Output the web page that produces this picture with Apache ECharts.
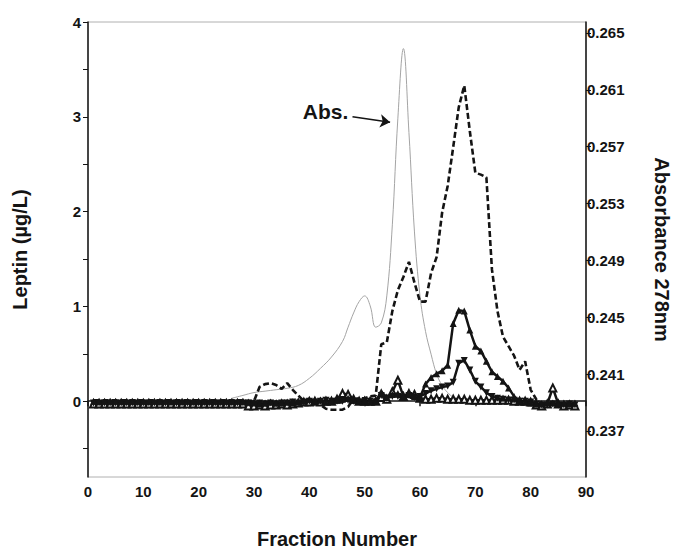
<!DOCTYPE html>
<html>
<head>
<meta charset="utf-8">
<script src="https://cdn.jsdelivr.net/npm/echarts@6/dist/echarts.min.js"></script>
<style>
  html, body { margin: 0; padding: 0; background: #fff; }
  #chart { width: 680px; height: 549px; }
</style>
</head>
<body>
<div id="chart"></div>
<script>
// --- data ---
const fractions = [1,2,3,4,5,6,7,8,9,10,11,12,13,14,15,16,17,18,19,20,21,22,23,24,25,26,27,28,29,30,
  31,32,33,34,35,36,37,38,39,40,41,42,43,44,45,46,47,48,49,50,51,52,53,54,55,56,57,58,59,60,
  61,62,63,64,65,66,67,68,69,70,71,72,73,74,75,76,77,78,79,80,81,82,83,84,85,86,87,88];

// leptin, filled up-triangles (larger peak)
const leptinUp = [0.00,0.00,0.00,0.00,0.00,0.00,0.00,0.00,0.00,0.00,0.00,0.00,0.00,0.00,0.00,
  0.00,0.00,0.00,0.00,0.00,0.00,0.00,0.00,0.00,0.00,0.00,0.00,0.00,-0.01,-0.01,
  -0.03,-0.02,-0.01,-0.02,-0.02,-0.01,-0.02,-0.01,0.00,0.02,0.00,0.01,-0.01,0.00,0.01,
  0.02,0.03,0.01,0.00,0.00,-0.01,0.00,0.10,0.04,0.07,0.08,0.05,0.09,0.05,0.04,
  0.18,0.25,0.29,0.32,0.38,0.82,0.96,0.95,0.75,0.58,0.53,0.42,0.31,0.26,0.21,
  0.14,0.05,0.00,-0.01,-0.02,-0.03,-0.03,-0.02,-0.02,-0.03,-0.02,-0.03,-0.02];

// leptin, filled down-triangles (smaller peak)
const leptinDown = [-0.02,-0.02,-0.02,-0.02,-0.02,-0.02,-0.02,-0.02,-0.02,-0.02,-0.02,-0.02,-0.02,-0.02,-0.02,
  -0.02,-0.02,-0.02,-0.02,-0.02,-0.02,-0.02,-0.02,-0.02,-0.02,-0.02,-0.02,-0.02,-0.02,-0.03,
  -0.02,-0.03,-0.02,-0.03,-0.02,-0.02,-0.01,-0.02,-0.01,0.00,-0.01,0.00,0.01,0.00,0.00,
  0.00,0.01,0.00,-0.01,-0.01,0.00,-0.01,0.06,0.03,0.05,0.05,0.04,0.06,0.04,0.05,
  0.08,0.11,0.13,0.15,0.16,0.20,0.40,0.43,0.33,0.21,0.15,0.09,0.05,0.03,0.02,
  0.01,0.01,0.00,0.00,-0.01,-0.03,-0.04,-0.04,-0.03,-0.04,-0.04,-0.03,-0.04];

// leptin, open triangles
const leptinOpen = [-0.03,-0.03,-0.03,-0.03,-0.03,-0.03,-0.03,-0.03,-0.03,-0.03,-0.03,-0.03,-0.03,-0.03,-0.03,
  -0.03,-0.03,-0.03,-0.03,-0.03,-0.03,-0.03,-0.03,-0.03,-0.03,-0.03,-0.03,-0.03,-0.05,-0.05,
  -0.04,-0.05,-0.04,-0.04,-0.03,-0.04,-0.03,-0.02,-0.01,-0.01,0.00,-0.01,0.00,0.00,0.02,
  0.08,0.07,0.02,0.00,0.00,0.00,0.00,0.04,0.02,0.10,0.22,0.05,0.08,0.07,0.03,
  0.02,0.02,0.03,0.03,0.02,0.02,0.02,0.02,0.01,0.01,0.01,0.01,0.01,0.01,0.01,
  0.01,0.00,0.00,0.00,-0.01,-0.04,-0.05,-0.03,0.14,-0.03,-0.05,-0.04,-0.05];

// leptin, dashed line
const leptinDash = [0.01,0.01,0.01,0.01,0.01,0.01,0.01,0.01,0.01,0.01,0.01,0.01,0.01,0.01,0.01,
  0.01,0.01,0.01,0.01,0.01,0.01,0.01,0.01,0.01,0.01,0.01,0.01,0.01,0.00,0.00,
  0.15,0.18,0.19,0.17,0.13,0.19,0.12,0.06,0.00,-0.01,-0.02,-0.04,-0.08,-0.09,-0.09,
  -0.09,-0.06,0.02,0.03,0.03,0.05,0.06,0.60,0.62,0.95,1.17,1.31,1.47,1.25,1.05,
  1.05,1.35,1.52,1.99,2.27,2.68,3.10,3.33,2.85,2.41,2.39,2.36,1.39,0.95,0.68,
  0.58,0.48,0.33,0.42,0.12,0.02,-0.03,-0.04,-0.03,-0.04,-0.03,-0.04,-0.03];

// absorbance at 278 nm (right axis)
const absFrac = [26,28,30,32,34,36,38,40,42,44,46,47,48,49,50,51,52,53,54,55,56,57,58,59,60,61,62,63,64,65,66,68,70,72,74,76,78,80];
const absVal = [0.2393,0.2395,0.2397,0.2398,0.2399,0.2400,0.2402,0.2407,0.2414,0.2422,0.2433,0.2443,0.2453,0.2461,0.2465,0.2458,0.2443,0.2446,0.2465,0.2515,0.2590,0.2639,0.2580,0.2510,0.2465,0.2440,0.2424,0.2410,0.2402,0.2397,0.2394,0.2392,0.2391,0.2392,0.2393,0.2394,0.2393,0.2392];

const xTicks = [0,10,20,30,40,50,60,70,80,90];
const leftLabels = [0,1,2,3,4];
const leftTicks = [-0.5,0,0.5,1,1.5,2,2.5,3,3.5,4];
const rightLabels = [0.237,0.241,0.245,0.249,0.253,0.257,0.261,0.265];

const pairs = (xs, ys) => xs.map((x, i) => [x, ys[i]]);

const FONT = 'Liberation Sans';
const INK = '#141414';
const lblStyle = { color: INK, fontFamily: FONT, fontWeight: 'bold', fontSize: 15 };
const nameStyle = { color: INK, fontFamily: FONT, fontWeight: 'bold', fontSize: 20 };

const chart = echarts.init(document.getElementById('chart'), null, { renderer: 'svg' });

chart.setOption({
  animation: false,
  backgroundColor: '#fff',
  grid: {
    left: 88, right: 94, top: 22, bottom: 72, containLabel: false, outerBoundsMode: 'none',
    show: true, borderColor: '#b0b0b0', borderWidth: 1
  },
  xAxis: {
    type: 'value', min: 0, max: 90, interval: 10,
    name: 'Fraction Number', nameLocation: 'middle', nameGap: 52,
    nameTextStyle: nameStyle,
    axisLine: { show: true, lineStyle: { color: INK, width: 1.5 } },
    axisTick: { show: true, length: 5, lineStyle: { color: INK, width: 1.5 }, customValues: xTicks },
    axisLabel: Object.assign({ margin: 7, customValues: xTicks }, lblStyle),
    splitLine: { show: false }
  },
  yAxis: [{
    type: 'value', min: -0.8, max: 4, position: 'left',
    name: 'Leptin (µg/L)', nameLocation: 'middle', nameGap: 58, nameRotate: 90,
    nameTextStyle: nameStyle,
    axisLine: { show: true, lineStyle: { color: INK, width: 1.5 } },
    axisTick: { show: true, length: 5, lineStyle: { color: INK, width: 1 }, customValues: leftTicks },
    axisLabel: Object.assign({ margin: 7, customValues: leftLabels }, lblStyle),
    splitLine: { show: false }
  }, {
    type: 'value', min: 0.23376, max: 0.26577, position: 'right',
    name: 'Absorbance 278nm', nameLocation: 'middle', nameGap: 66, nameRotate: -90,
    nameTextStyle: nameStyle,
    axisLine: { show: true, lineStyle: { color: INK, width: 1.5 } },
    axisTick: { show: true, length: 5, lineStyle: { color: INK, width: 1 }, customValues: rightLabels },
    axisLabel: Object.assign({ margin: 1, customValues: rightLabels, formatter: v => v.toFixed(3) }, lblStyle),
    splitLine: { show: false }
  }],
  series: [{
    name: 'Abs.', type: 'line', yAxisIndex: 1, smooth: 0.4, showSymbol: false,
    data: pairs(absFrac, absVal),
    lineStyle: { color: '#a4a4a4', width: 1 },
    markLine: {
      silent: true, symbol: ['none', 'arrow'], symbolSize: 10,
      lineStyle: { color: INK, width: 1.6, type: 'solid' }, label: { show: false },
      data: [[{ coord: [47.8, 0.2591] }, { coord: [54.6, 0.25872] }]]
    },
    markPoint: {
      silent: true, symbol: 'circle', symbolSize: 0,
      label: { show: true, position: 'left', distance: 2, formatter: 'Abs.', color: INK, fontFamily: FONT, fontWeight: 'bold', fontSize: 21 },
      data: [{ coord: [47.4, 0.25945] }]
    }
  }, {
    name: 'open', type: 'line', data: pairs(fractions, leptinOpen),
    symbol: 'emptyTriangle', symbolSize: 7, itemStyle: { color: INK, borderWidth: 1.4 },
    lineStyle: { color: INK, width: 2.5 }
  }, {
    name: 'down', type: 'line', data: pairs(fractions, leptinDown),
    symbol: 'triangle', symbolRotate: 180, symbolSize: 7, itemStyle: { color: INK },
    lineStyle: { color: INK, width: 2.5 }
  }, {
    name: 'up', type: 'line', data: pairs(fractions, leptinUp),
    symbol: 'triangle', symbolSize: 7, itemStyle: { color: INK },
    lineStyle: { color: INK, width: 2.5 }
  }, {
    name: 'dash', type: 'line', data: pairs(fractions, leptinDash), showSymbol: false,
    lineStyle: { color: INK, width: 2.6, type: [6, 3] }
  }]
});
</script>
</body>
</html>
